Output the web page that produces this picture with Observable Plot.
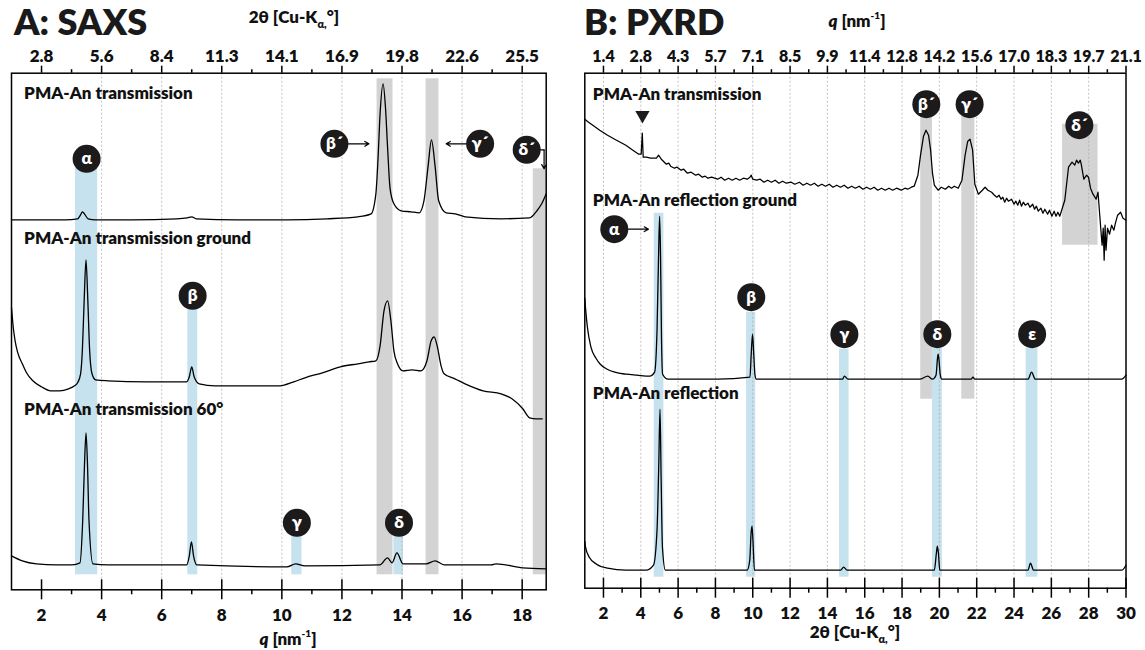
<!DOCTYPE html>
<html><head><meta charset="utf-8">
<script src="https://cdn.jsdelivr.net/npm/d3@7"></script>
<script src="https://cdn.jsdelivr.net/npm/@observablehq/plot@0.6"></script>
<style>
body{margin:0;background:#fff;}
#wrap{position:relative;width:1145px;height:650px;font-family:Lato,"Open Sans",sans-serif;font-weight:800;color:#111;overflow:hidden;}
.panel{position:absolute;top:0;}
.ttl{position:absolute;top:0;font-size:36px;font-weight:800;line-height:1.2;white-space:nowrap;color:#1a1a1a;}
.ax{position:absolute;font-size:17px;font-weight:800;white-space:nowrap;transform:translate(-50%,-50%);line-height:1.2;}
.ax sub{font-size:11px;vertical-align:-5px;}
.ax sup{font-size:10px;vertical-align:8px;}
</style></head>
<body>
<div id="wrap">
  <div class="ttl" style="left:14px;">A: SAXS</div>
  <div class="ttl" style="left:584px;">B: PXRD</div>
  <div class="ax" style="left:294px;top:19px;">2θ [Cu-K<sub>α,</sub>°]</div>
  <div class="ax" style="left:857px;top:20px;"><i>q</i> [nm<sup>-1</sup>]</div>
  <div class="ax" style="left:288px;top:638px;"><i>q</i> [nm<sup>-1</sup>]</div>
  <div class="ax" style="left:855px;top:634px;">2θ [Cu-K<sub>α,</sub>°]</div>
</div>
<script>
// ---------- Panel A: SAXS (x = q [nm^-1], y = intensity a.u., stacked) ----------
const saxsTransmission = [[1.0,370],[2.0,370],[2.8,370],[3.2,371],[3.3,375],[3.36,378],[3.45,375],[3.55,371],[3.8,370],[5.0,370],[6.5,371],[6.85,372],[7.0,373],[7.15,371],[8.5,370],[10.17,370],[11.5,371],[12.53,373],[12.97,376],[13.13,396],[13.2,430],[13.27,476],[13.37,506],[13.45,482],[13.52,442],[13.6,402],[13.73,386],[13.97,379],[14.3,378],[14.57,377],[14.73,389],[14.87,424],[14.98,450],[15.1,424],[15.22,389],[15.47,377],[15.77,376],[16.1,373],[17.3,371],[18.25,372],[18.49,379],[18.65,386],[18.8,396]];
const saxsGround = [[1.0,282],[1.06,262],[1.12,249],[1.2,238],[1.36,226],[1.5,217],[1.71,209],[2.0,203],[2.3,199],[2.6,199],[2.9,201],[3.1,204],[3.2,207],[3.3,216],[3.36,240],[3.42,290],[3.48,330],[3.54,290],[3.6,240],[3.68,216],[3.8,210],[4.2,209],[5.5,208],[6.83,208],[6.92,213],[7.0,223],[7.08,213],[7.25,206],[7.78,204],[9.0,204],[9.93,204],[10.4,208],[10.77,212],[11.35,217],[11.95,223],[12.53,226],[12.9,228],[13.13,229],[13.27,244],[13.4,279],[13.52,289],[13.63,269],[13.73,239],[13.85,226],[14.03,219],[14.33,220],[14.63,219],[14.83,229],[14.97,249],[15.07,253],[15.17,244],[15.3,224],[15.4,216],[15.76,211],[16.1,206],[16.7,199],[17.3,196],[17.66,191],[18.02,181],[18.25,172],[18.47,171],[18.67,171]];
const saxs60 = [[1.0,34],[1.36,29],[1.83,26],[2.5,25],[3.02,25],[3.28,27],[3.37,69],[3.43,125],[3.48,157],[3.53,125],[3.58,69],[3.71,26],[4.2,25],[6.83,25],[6.92,34],[6.99,48],[7.06,34],[7.17,25],[10.17,23],[10.46,26],[10.76,24],[13.26,25],[13.52,32],[13.67,27],[13.83,37],[14.03,26],[14.8,26],[15.1,29],[15.4,25],[16.97,25],[17.13,26],[18.02,22],[18.79,21]];
const saxsMajor = [2,4,6,8,10,12,14,16,18];
const saxsMinor = [3,5,7,9,11,13,15,17];
const saxsGrid = [4,6,8,10,12,14,16,18];
const saxsTopLabels = ["2.8","5.6","8.4","11.3","14.1","16.9","19.8","22.6","25.5"];
const saxsBands = [
  {x1:3.13,x2:3.87,y1:15,y2:422,kind:"blue"},
  {x1:6.87,x2:7.2,y1:15,y2:282,kind:"blue"},
  {x1:10.33,x2:10.67,y1:15,y2:54,kind:"blue"},
  {x1:13.73,x2:14.05,y1:15,y2:54,kind:"blue"},
  {x1:13.17,x2:13.7,y1:15,y2:511,kind:"gray"},
  {x1:14.8,x2:15.23,y1:15,y2:511,kind:"gray"},
  {x1:18.37,x2:18.8,y1:15,y2:421,kind:"gray"}];
const saxsTags = [
  {x:3.5,y:431,t:"α"},{x:7.03,y:294,t:"β"},{x:10.5,y:67,t:"γ"},{x:13.9,y:67,t:"δ"},
  {x:11.75,y:446,t:"β´"},{x:16.6,y:446,t:"γ´"},{x:18.15,y:440,t:"δ´"}];
const saxsArrows = [{x1:12.2,y1:446,x2:12.9,y2:446},{x1:16.17,y1:446,x2:15.47,y2:446},{x1:18.73,y1:440,x2:18.73,y2:421}];
const saxsElbow = [[18.5,440],[18.73,440]];
const saxsNames = [{x:1.42,y:496,t:"PMA-An transmission"},{x:1.42,y:351,t:"PMA-An transmission ground"},{x:1.42,y:180,t:"PMA-An transmission 60°"}];

// ---------- Panel B: PXRD (x = 2θ [°], y = intensity a.u., stacked) ----------
const pxrdTransmission = [[1.0,469],[1.2,466],[1.43,463],[1.8,458],[2.22,453],[2.6,449],[3.0,445],[3.2,443],[3.5,439],[3.89,434],[4.02,434],[4.08,455],[4.13,431],[4.3,431],[4.52,430],[4.84,430],[4.95,433],[5.1,429],[5.37,424],[5.5,425],[5.6,422],[5.8,420],[5.95,421],[6.16,418],[6.3,419],[6.5,415],[6.7,416],[6.94,413],[7.1,414],[7.3,411],[7.45,412],[7.6,410],[7.8,411],[8.12,409],[8.3,411],[8.5,408],[8.7,410],[8.9,408],[9.1,410],[9.3,408],[9.5,410],[9.7,409],[9.85,411],[9.92,413],[10.0,409],[10.2,408],[10.4,409],[10.6,406],[10.8,408],[11.0,406],[11.2,408],[11.4,405],[11.6,407],[11.8,405],[12.06,406],[12.25,404],[12.5,406],[12.7,403],[12.9,405],[13.1,403],[13.3,405],[13.5,402],[13.7,404],[13.9,402],[14.1,404],[14.3,401],[14.5,403],[14.7,401],[14.9,403],[15.1,400],[15.3,402],[15.5,400],[15.7,402],[15.9,399],[16.1,401],[16.3,399],[16.5,401],[16.7,398],[16.9,400],[17.1,398],[17.3,400],[17.5,398],[17.7,400],[17.96,398],[18.15,400],[18.3,399],[18.5,401],[18.65,402],[18.85,413],[18.99,433],[19.15,452],[19.28,458],[19.42,453],[19.53,438],[19.63,415],[19.73,403],[19.93,398],[20.1,401],[20.32,399],[20.5,402],[20.65,400],[20.8,402],[21.01,400],[21.21,408],[21.38,433],[21.52,447],[21.64,449],[21.78,438],[21.9,404],[22.09,394],[22.3,398],[22.45,401],[22.6,398],[22.8,396],[22.95,393],[23.08,391],[23.2,393],[23.3,389],[23.4,391],[23.5,386],[23.6,390],[23.7,387],[23.87,389],[24.0,384],[24.1,387],[24.2,383],[24.3,388],[24.4,382],[24.5,386],[24.6,383],[24.75,385],[24.85,381],[25.0,384],[25.1,379],[25.2,382],[25.3,377],[25.44,380],[25.55,375],[25.65,379],[25.8,374],[25.9,378],[26.03,372],[26.15,377],[26.25,372],[26.35,376],[26.45,372],[26.52,376],[26.72,388],[26.92,421],[27.11,426],[27.25,423],[27.35,428],[27.45,425],[27.55,428],[27.6,424],[27.74,409],[27.89,413],[27.99,411],[28.1,400],[28.23,394],[28.4,389],[28.5,396],[28.63,364],[28.72,343],[28.78,360],[28.83,328],[28.88,363],[28.93,338],[29.01,360],[29.12,354],[29.23,363],[29.35,358],[29.42,364],[29.55,373],[29.71,376],[29.84,370],[30.0,368]];
const pxrdReflGround = [[1.0,290],[1.04,280],[1.14,261],[1.33,241],[1.6,230],[1.83,224],[2.2,219],[2.61,216],[3.2,214],[3.79,213],[4.48,212],[4.74,216],[4.87,258],[4.95,330],[5.01,372],[5.06,330],[5.11,250],[5.17,214],[5.46,209],[8.12,209],[9.85,211],[9.92,235],[9.99,254],[10.05,235],[10.12,213],[10.19,209],[14.81,209],[14.91,212],[15.1,209],[18.94,209],[19.38,212],[19.63,209],[19.82,213],[19.9,230],[19.93,234],[19.97,230],[20.05,213],[20.13,209],[21.7,209],[21.8,211],[21.9,209],[24.75,209],[24.94,216],[25.14,209],[29.77,209],[30.0,213]];
const pxrdRefl = [[1.0,47],[1.04,41],[1.24,31],[1.63,24],[2.22,20],[3.2,18],[4.29,18],[4.68,23],[4.87,58],[4.96,120],[5.03,179],[5.09,110],[5.16,41],[5.32,18],[9.7,18],[9.84,28],[9.91,55],[9.96,62],[10.01,48],[10.09,18],[14.71,18],[14.87,21],[15.05,18],[19.73,18],[19.84,35],[19.89,42],[19.95,35],[20.02,18],[24.75,18],[24.88,25],[25.05,18],[29.77,18],[30.0,23]];
const pxrdMajor = [2,4,6,8,10,12,14,16,18,20,22,24,26,28,30];
const pxrdMinor = [3,5,7,9,11,13,15,17,19,21,23,25,27,29];
const pxrdGrid = [2,4,6,8,10,12,14,16,18,20,22,24,26,28];
const pxrdTopLabels = ["1.4","2.8","4.3","5.7","7.1","8.5","9.9","11.4","12.8","14.2","15.6","17.0","18.3","19.7","21.1"];
const pxrdBands = [
  {x1:4.72,x2:5.24,y1:11,y2:375,kind:"blue"},
  {x1:9.67,x2:10.16,y1:11,y2:276,kind:"blue"},
  {x1:14.65,x2:15.16,y1:11,y2:239,kind:"blue"},
  {x1:19.0,x2:19.63,y1:189,y2:472,kind:"gray"},
  {x1:21.2,x2:21.9,y1:189,y2:472,kind:"gray"},
  {x1:26.6,x2:28.5,y1:343,y2:464,kind:"gray"},
  {x1:19.63,x2:20.16,y1:11,y2:240,kind:"blue"},
  {x1:24.65,x2:25.28,y1:11,y2:240,kind:"blue"}];
const pxrdTags = [
  {x:2.58,y:359,t:"α"},{x:9.92,y:291,t:"β"},{x:14.91,y:254,t:"γ"},{x:19.89,y:254,t:"δ"},{x:24.97,y:254,t:"ε"},
  {x:19.3,y:484,t:"β´"},{x:21.62,y:484,t:"γ´"},{x:27.5,y:463,t:"δ´"}];
const pxrdArrows = [{x1:3.29,y1:359,x2:4.41,y2:359}];
const pxrdMarker = [{x:4.09,y:473}];
const pxrdNames = [{x:1.43,y:494,t:"PMA-An transmission"},{x:1.43,y:388,t:"PMA-An reflection ground"},{x:1.43,y:195,t:"PMA-An reflection"}];

const FONT = 'Lato, "Open Sans", sans-serif';
const BLUE = "#c5e2ee", GRAY = "#d3d3d3", INK = "#1c1a1b";

function panel(c) {
  const frameH = c.height - c.mT - c.mB;
  const topFmt = new Map(c.major.map((d, i) => [d, c.topLabels[i]]));
  const lineOpts = {x: d => d[0], y: d => d[1], stroke: "#000", strokeWidth: 1.3, curve: "monotone-x"};
  return Plot.plot({
    width: c.width, height: c.height,
    marginLeft: c.mL, marginRight: c.mR, marginTop: c.mT, marginBottom: c.mB,
    x: {domain: c.xDomain},
    y: {domain: c.yDomain, axis: null},
    style: {fontFamily: FONT, fontWeight: 800, background: "transparent", color: "#111"},
    marks: [
      Plot.rect(c.bands, {x1: "x1", x2: "x2", y1: "y1", y2: "y2", fill: d => d.kind === "gray" ? GRAY : BLUE}),
      Plot.ruleX(c.grid, {stroke: "#a8a8a8", strokeWidth: 0.7, strokeDasharray: "2,2"}),
      ...c.traces.map(t => Plot.line(t, {...lineOpts, ...(c.thin && t === c.thin ? {curve: "linear", strokeWidth: 1.25} : {})})),
      ...(c.elbow ? [Plot.line(c.elbow, {x: d => d[0], y: d => d[1], stroke: "#000", strokeWidth: 1.2})] : []),
      Plot.arrow(c.arrows, {x1: "x1", y1: "y1", x2: "x2", y2: "y2", stroke: "#000", strokeWidth: 1.2, headLength: 6}),
      ...(c.marker ? [Plot.dot(c.marker, {x: "x", y: "y", symbol: "triangle", rotate: 180, r: 5.3, fill: INK, stroke: null})] : []),
      Plot.dot(c.tags, {x: "x", y: "y", r: 14, fill: INK, stroke: null}),
      Plot.text(c.tags, {x: "x", y: "y", text: "t", fill: "#fff", fontSize: 17, fontWeight: 800}),
      Plot.text(c.names, {x: "x", y: "y", text: "t", textAnchor: "start", fontSize: 17, fontWeight: 800, fill: "#111"}),
      Plot.frame({stroke: "#000", strokeWidth: 1.5}),
      Plot.ruleX(c.major, {insetTop: frameH - 10, insetBottom: -10, stroke: "#000", strokeWidth: 1.5}),
      Plot.ruleX(c.minor, {insetTop: frameH, insetBottom: -5, stroke: "#000", strokeWidth: 1.5}),
      Plot.ruleX(c.major, {insetTop: -7, insetBottom: frameH, stroke: "#000", strokeWidth: 1.5}),
      Plot.ruleX(c.minor, {insetTop: -3.5, insetBottom: frameH, stroke: "#000", strokeWidth: 1.5}),
      Plot.axisX({anchor: "bottom", ticks: c.major, tickSize: 0, tickPadding: 19, label: null, fontSize: 17, fontWeight: 800, tickFormat: d => String(d)}),
      Plot.axisX({anchor: "top", ticks: c.major, tickSize: 0, tickPadding: 11, label: null, fontSize: c.topFont, fontWeight: 800, tickFormat: d => topFmt.get(d)})
    ]
  });
}

const left = panel({
  width: 565, height: 650, mL: 11, mR: 19.3, mT: 72.7, mB: 60.7,
  xDomain: [1, 18.8], yDomain: [0, 516.6], topFont: 17,
  traces: [saxsTransmission, saxsGround, saxs60],
  bands: saxsBands, grid: saxsGrid, major: saxsMajor, minor: saxsMinor, topLabels: saxsTopLabels,
  tags: saxsTags, arrows: saxsArrows, elbow: saxsElbow, names: saxsNames
});
const right = panel({
  width: 580, height: 650, mL: 19.3, mR: 19.5, mT: 72.7, mB: 62.3,
  xDomain: [1, 30], yDomain: [0, 515], topFont: 16,
  traces: [pxrdTransmission, pxrdReflGround, pxrdRefl], thin: pxrdTransmission,
  bands: pxrdBands, grid: pxrdGrid, major: pxrdMajor, minor: pxrdMinor, topLabels: pxrdTopLabels,
  tags: pxrdTags, arrows: pxrdArrows, marker: pxrdMarker, names: pxrdNames
});
left.classList.add("panel"); left.style.left = "0px";
right.classList.add("panel"); right.style.left = "565px";
const wrap = document.getElementById("wrap");
wrap.insertBefore(right, wrap.firstChild);
wrap.insertBefore(left, wrap.firstChild);
</script>
</body></html>
